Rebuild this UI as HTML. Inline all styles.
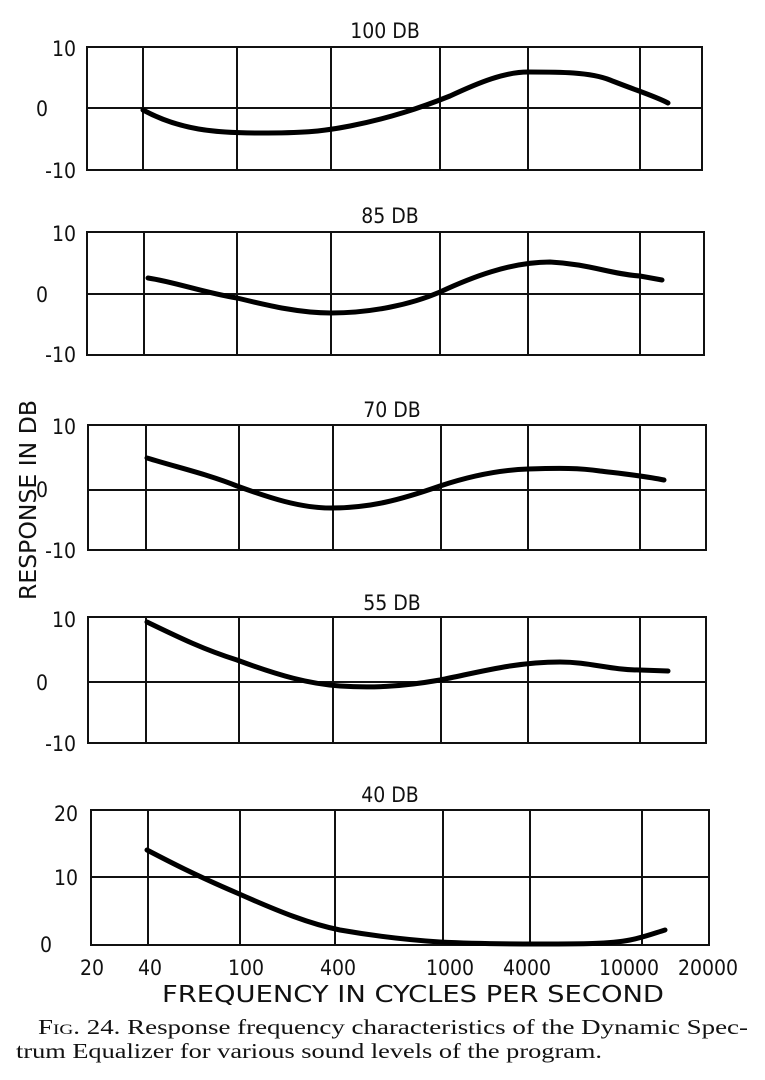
<!DOCTYPE html>
<html><head><meta charset="utf-8"><style>
html,body{margin:0;padding:0;background:#fff;}
svg{display:block}
.t{font-family:"DejaVu Sans Condensed","DejaVu Sans","Liberation Sans",sans-serif;font-size:21px;fill:#111}
.c{font-family:"Liberation Serif",serif;font-size:21px;fill:#111}
</style></head><body>
<svg width="765" height="1080" viewBox="0 0 765 1080" xmlns="http://www.w3.org/2000/svg">
<g stroke="#111" fill="none" stroke-width="2">
<rect x="87" y="47" width="615" height="123"/>
<line x1="87" y1="108" x2="702" y2="108"/>
<path d="M143 47V170M237 47V170M331 47V170M440 47V170M528 47V170M640 47V170"/>
<rect x="87" y="232" width="617" height="123"/>
<line x1="87" y1="294" x2="704" y2="294"/>
<path d="M144 232V355M237 232V355M331 232V355M440 232V355M528 232V355M640 232V355"/>
<rect x="88" y="425" width="618" height="125"/>
<line x1="88" y1="490" x2="706" y2="490"/>
<path d="M146 425V550M239 425V550M333 425V550M441 425V550M528 425V550M640 425V550"/>
<rect x="88" y="617" width="618" height="126"/>
<line x1="88" y1="682" x2="706" y2="682"/>
<path d="M146 617V743M239 617V743M333 617V743M441 617V743M528 617V743M640 617V743"/>
<rect x="91" y="810" width="618" height="135"/>
<line x1="91" y1="877" x2="709" y2="877"/>
<path d="M148 810V945M240 810V945M335 810V945M443 810V945M530 810V945M642 810V945"/>
</g>
<g stroke="#000" fill="none" stroke-width="5" stroke-linecap="round">
<path d="M143 110 C180 130 215 133 260 133 C300 133 320 132 350 126 C390 118 420 108 450 96 C480 82 505 72 528 72 C560 72 590 72 610 80 C635 90 655 96 668 103"/>
<path d="M148 278 C175 282 205 293 237 298 C270 306 300 313 331 313 C370 313 410 305 440 292 C470 278 510 262 550 262 C590 264 610 274 640 276 L662 280"/>
<path d="M147 458 C180 468 210 475 237 486 C270 498 300 508 331 508 C370 508 400 500 440 486 C470 476 500 470 528 469 C560 468 580 468 600 471 C625 474 645 476 664 480"/>
<path d="M147 622 C180 638 205 650 237 660 C280 676 310 684 340 686 C370 688 400 687 440 680 C480 672 515 662 560 662 C590 662 610 670 640 670 L668 671"/>
<path d="M147 850 C170 862 195 875 237 893 C280 912 310 924 340 930 C380 937 410 940 440 942 C480 944 510 944 540 944 C580 944 610 944 630 940 C645 937 655 933 665 930"/>
</g>
<g class="t">
<text x="385" y="38" text-anchor="middle">100 DB</text>
<text x="390" y="223" text-anchor="middle">85 DB</text>
<text x="392" y="417" text-anchor="middle">70 DB</text>
<text x="392" y="610" text-anchor="middle">55 DB</text>
<text x="390" y="802" text-anchor="middle">40 DB</text>
<g text-anchor="end">
<text x="76" y="56">10</text><text x="48" y="116">0</text><text x="76" y="178">-10</text>
<text x="76" y="241">10</text><text x="48" y="302">0</text><text x="76" y="362">-10</text>
<text x="76" y="434">10</text><text x="48" y="497">0</text><text x="76" y="558">-10</text>
<text x="76" y="627">10</text><text x="48" y="690">0</text><text x="76" y="751">-10</text>
<text x="78" y="821">20</text><text x="78" y="885">10</text><text x="52" y="952">0</text>
</g>
<g text-anchor="middle">
<text x="92" y="975">20</text><text x="150" y="975">40</text><text x="246" y="975">100</text>
<text x="338" y="975">400</text><text x="450" y="975">1000</text><text x="527" y="975">4000</text>
<text x="629" y="975">10000</text><text x="708" y="975">20000</text>
</g>
<text x="162" y="1002" textLength="502" lengthAdjust="spacingAndGlyphs" style="font-size:23px">FREQUENCY IN CYCLES PER SECOND</text>
<text transform="translate(36 600) rotate(-90)" textLength="200" lengthAdjust="spacingAndGlyphs" style="font-size:23px">RESPONSE IN DB</text>
</g>
<text class="c" x="38" y="1034" textLength="710" lengthAdjust="spacingAndGlyphs">F<tspan style="font-size:15px">IG</tspan>. 24.  Response frequency characteristics of the Dynamic Spec-</text>
<text class="c" x="16" y="1058" textLength="586" lengthAdjust="spacingAndGlyphs">trum Equalizer for various sound levels of the program.</text>
</svg>
</body></html>
